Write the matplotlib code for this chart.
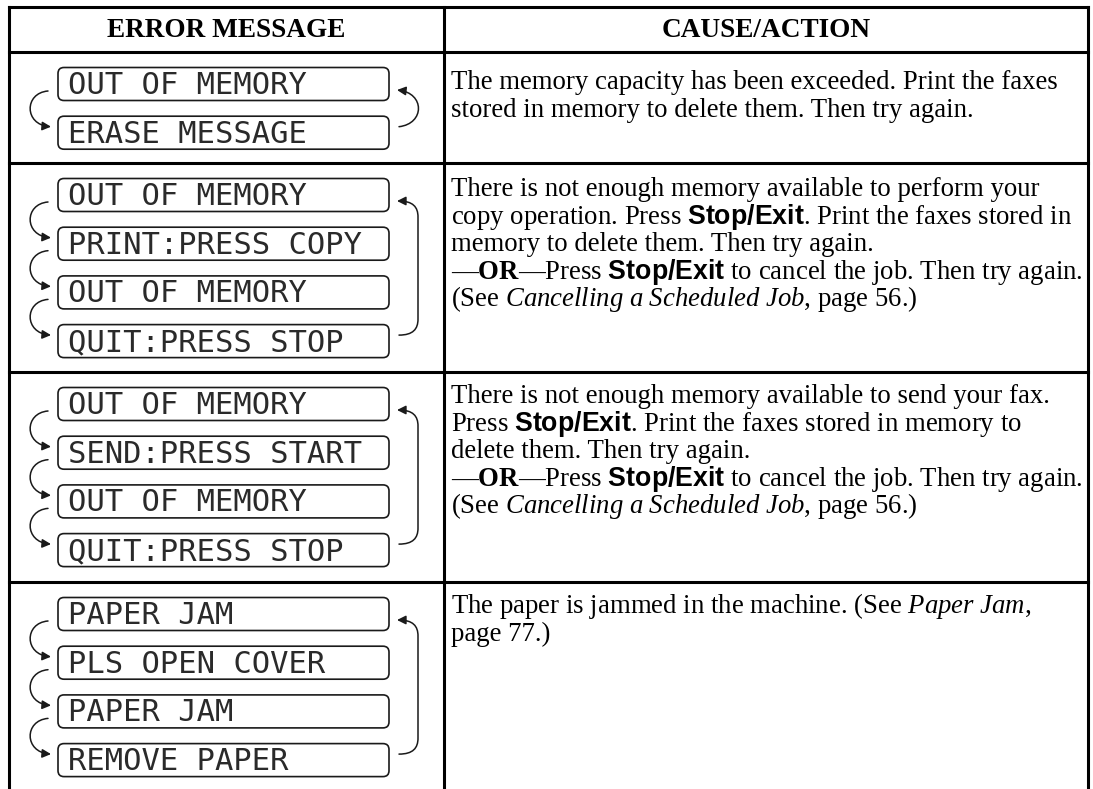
import matplotlib.pyplot as plt
from matplotlib.patches import FancyBboxPatch, FancyArrowPatch
from matplotlib.path import Path

plt.rcParams['mathtext.fontset'] = 'custom'
plt.rcParams['mathtext.rm'] = 'Liberation Serif'
plt.rcParams['mathtext.it'] = 'Liberation Serif:italic'
plt.rcParams['mathtext.bf'] = 'Liberation Serif:bold'
plt.rcParams['mathtext.sf'] = 'Liberation Sans:bold'

headers = ["ERROR MESSAGE", "CAUSE/ACTION"]

lcd_messages = [
    ["OUT OF MEMORY", "ERASE MESSAGE"],
    ["OUT OF MEMORY", "PRINT:PRESS COPY", "OUT OF MEMORY", "QUIT:PRESS STOP"],
    ["OUT OF MEMORY", "SEND:PRESS START", "OUT OF MEMORY", "QUIT:PRESS STOP"],
    ["PAPER JAM", "PLS OPEN COVER", "PAPER JAM", "REMOVE PAPER"],
]

actions = [
    ["The memory capacity has been exceeded. Print the faxes",
     "stored in memory to delete them. Then try again."],
    ["There is not enough memory available to perform your",
     r"copy operation. Press $\mathsf{Stop/Exit}$. Print the faxes stored in",
     "memory to delete them. Then try again.",
     r"—$\mathbf{OR}$—Press $\mathsf{Stop/Exit}$ to cancel the job. Then try again.",
     r"(See $\mathit{Cancelling\ a\ Scheduled\ Job}$, page 56.)"],
    ["There is not enough memory available to send your fax.",
     r"Press $\mathsf{Stop/Exit}$. Print the faxes stored in memory to",
     "delete them. Then try again.",
     r"—$\mathbf{OR}$—Press $\mathsf{Stop/Exit}$ to cancel the job. Then try again.",
     r"(See $\mathit{Cancelling\ a\ Scheduled\ Job}$, page 56.)"],
    [r"The paper is jammed in the machine. (See $\mathit{Paper\ Jam}$,",
     "page 77.)"],
]

W, H = 1093, 789
fig = plt.figure(figsize=(W / 100, H / 100), dpi=100)
ax = fig.add_axes([0, 0, 1, 1])
ax.set_xlim(0, W)
ax.set_ylim(H, 0)
ax.axis('off')

# table grid (pixel coords)
left, mid, right, top = 9, 444, 1088, 7
row_tops = [52, 163, 372, 582]
lw = 2.2
for x in (left, mid, right):
    ax.plot([x, x], [top, H], color='black', lw=lw, solid_capstyle='projecting')
for y in [top] + row_tops:
    ax.plot([left, right], [y, y], color='black', lw=lw, solid_capstyle='projecting')

serif = 'Liberation Serif'
ax.text((left + mid) / 2, 37, headers[0], ha='center', va='baseline',
        family=serif, weight='bold', fontsize=19.6)
ax.text((mid + right) / 2, 37, headers[1], ha='center', va='baseline',
        family=serif, weight='bold', fontsize=19.6)

box_x0, box_x1, box_h, pitch = 58, 389, 33, 48.7
ink = '#1a1a1a'


def arrow(verts, codes):
    p = FancyArrowPatch(path=Path(verts, codes),
                        arrowstyle='-|>,head_length=0.4,head_width=0.2',
                        mutation_scale=13, lw=1.1, color=ink)
    ax.add_patch(p)


C4 = [Path.MOVETO, Path.CURVE4, Path.CURVE4, Path.CURVE4]

for r, msgs in enumerate(lcd_messages):
    tops = [row_tops[r] + 15.5 + i * pitch for i in range(len(msgs))]
    for t, msg in zip(tops, msgs):
        ax.add_patch(FancyBboxPatch((box_x0, t), box_x1 - box_x0, box_h,
                                    boxstyle='round,pad=0,rounding_size=6',
                                    fc='white', ec=ink, lw=1.2))
        ax.text(box_x0 + 10, t + 26.5, msg, family='DejaVu Sans Mono',
                fontsize=22, color='#2a2a2a', va='baseline', ha='left')
    # left arrows: each message to the next
    for a, b in zip(tops[:-1], tops[1:]):
        y1 = a + box_h / 2 + 7
        y2 = b + box_h / 2 - 6
        arrow([(48, y1), (24, y1 + 2), (24, y2 - 2), (51, y2)], C4)
    # right arrow: last message back to first
    yb = tops[-1] + box_h / 2 - 6
    yt = tops[0] + box_h / 2 + 6
    if len(msgs) == 2:
        arrow([(399, yb), (425, yb - 3), (425, yt + 3), (397, yt)], C4)
    else:
        arrow([(399, yb), (413, yb), (418, yb - 6), (418, yb - 16),
               (418, yt + 16), (418, yt + 6), (413, yt), (397, yt)],
              C4 + [Path.LINETO, Path.CURVE4, Path.CURVE4, Path.CURVE4])

# cause / action column
first_offset = [37, 33, 31, 31]
for r, lines in enumerate(actions):
    for i, line in enumerate(lines):
        ax.text(451, row_tops[r] + first_offset[r] + i * 27.6, line,
                family=serif, fontsize=19.3, va='baseline', ha='left',
                color='black')

fig.savefig('out.png', dpi=100, facecolor='white')
